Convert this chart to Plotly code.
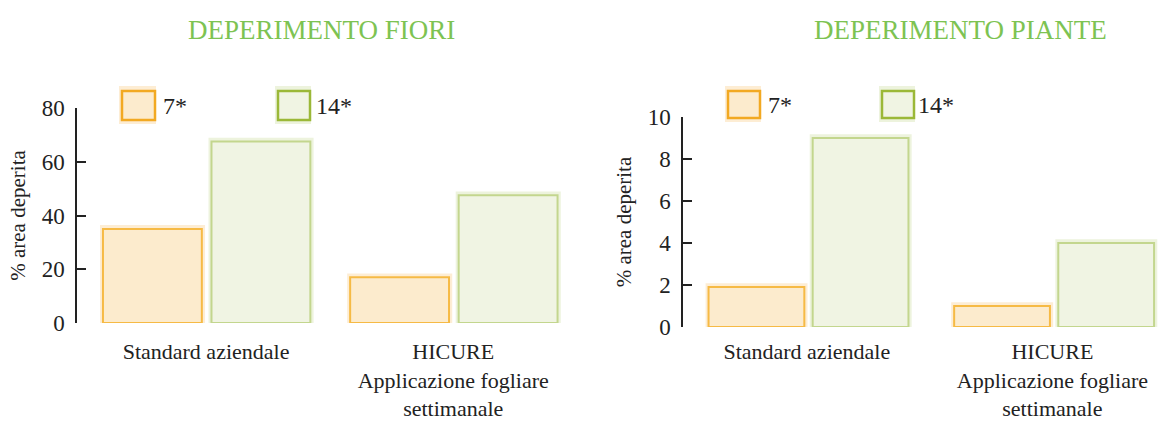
import plotly.graph_objects as go

W, H = 1159, 421

categories = ["Standard aziendale", "HICURE<br>Applicazione fogliare<br>settimanale"]
series_names = ["7*", "14*"]
fiori_7 = [35, 17]
fiori_14 = [67.5, 47.5]
piante_7 = [1.9, 1.0]
piante_14 = [9.0, 4.0]
fiori_ticks = [0, 20, 40, 60, 80]
piante_ticks = [0, 2, 4, 6, 8, 10]
titles = ["DEPERIMENTO FIORI", "DEPERIMENTO PIANTE"]
y_title = "% area deperita"

FONT = "Liberation Serif"
ORANGE_FILL = "#FCEBCD"
ORANGE_LINE = "#F6BA45"
ORANGE_LEG = "#F2A922"
GREEN_FILL = "#F0F4E3"
GREEN_LINE = "#C3D68E"
GREEN_LEG = "#9BB838"
TITLE_COL = "#7DC352"
SHADOW_OR = "rgba(250,215,160,0.45)"
SHADOW_GR = "rgba(215,228,180,0.45)"

def px(x):
    return x / W

def py(y):
    return 1 - y / H

fig = go.Figure()

def add_panel(xa, ya, v7, v14, ymax, width, off7, off14):
    ax = "x" if xa == 1 else f"x{xa}"
    ay = "y" if ya == 1 else f"y{ya}"
    pad = ymax * 0.018
    for vals, off, col in [(v7, off7, SHADOW_OR), (v14, off14, SHADOW_GR)]:
        fig.add_trace(go.Bar(
            x=categories, y=[v + pad for v in vals], width=width + 0.025,
            offset=off - 0.012, marker=dict(color=col, line=dict(width=0)),
            xaxis=ax, yaxis=ay, showlegend=False, hoverinfo="skip", cliponaxis=False))
    fig.add_trace(go.Bar(
        x=categories, y=v7, width=width, offset=off7, name=series_names[0],
        marker=dict(color=ORANGE_FILL, line=dict(color=ORANGE_LINE, width=2)),
        xaxis=ax, yaxis=ay, showlegend=False, cliponaxis=False))
    fig.add_trace(go.Bar(
        x=categories, y=v14, width=width, offset=off14, name=series_names[1],
        marker=dict(color=GREEN_FILL, line=dict(color=GREEN_LINE, width=2)),
        xaxis=ax, yaxis=ay, showlegend=False, cliponaxis=False))

add_panel(1, 1, fiori_7, fiori_14, 80, 0.40, -0.417, 0.022)
add_panel(2, 2, piante_7, piante_14, 10, 0.39, -0.40, 0.024)

axis_common = dict(showgrid=False, zeroline=False, automargin=False)
xcommon = dict(axis_common, showline=False, ticks="",
               tickfont=dict(family=FONT, size=22, color="#222"))
ycommon = dict(axis_common, showline=True, linecolor="#222", linewidth=1.5,
               ticks="inside", ticklen=9, tickwidth=1.5, tickcolor="#222",
               tickfont=dict(family=FONT, size=23, color="#222"), ticklabelstandoff=6,
               title=dict(text=y_title, font=dict(family=FONT, size=21, color="#222"),
                          standoff=10))

fig.update_layout(
    width=W, height=H,
    margin=dict(l=0, r=0, t=0, b=0, autoexpand=False),
    paper_bgcolor="white", plot_bgcolor="rgba(0,0,0,0)",
    barmode="overlay",
    xaxis=dict(xcommon, domain=[px(77), px(562)], range=[-0.522, 1.44], anchor="y",
               ticklabelstandoff=13),
    yaxis=dict(ycommon, domain=[py(323), py(108)], range=[0, 80], tickvals=fiori_ticks,
               anchor="x"),
    xaxis2=dict(xcommon, domain=[px(683), px(1158)], range=[-0.504, 1.43], anchor="y2",
                ticklabelstandoff=9),
    yaxis2=dict(ycommon, domain=[py(327), py(117)], range=[0, 10], tickvals=piante_ticks,
                anchor="x2"),
    showlegend=False,
)

for t, cx in zip(titles, [321, 960]):
    fig.add_annotation(text=t, x=px(cx), y=py(30), xref="paper", yref="paper",
                       showarrow=False, xanchor="center", yanchor="middle",
                       font=dict(family=FONT, size=27, color=TITLE_COL))

legend_items = [
    (122, 155, 91, 120, ORANGE_FILL, ORANGE_LEG, SHADOW_OR, series_names[0], 161),
    (278, 310, 91, 120, GREEN_FILL, GREEN_LEG, SHADOW_GR, series_names[1], 314),
    (728, 760, 91, 118, ORANGE_FILL, ORANGE_LEG, SHADOW_OR, series_names[0], 766),
    (882, 914, 91, 118, GREEN_FILL, GREEN_LEG, SHADOW_GR, series_names[1], 916),
]
for x0, x1, y0, y1, fill, line, sh, label, tx in legend_items:
    fig.add_shape(type="rect", xref="paper", yref="paper",
                  x0=px(x0 - 3), x1=px(x1 + 1), y0=py(y1 + 4), y1=py(y0 - 5),
                  fillcolor=sh, line=dict(width=0), layer="below")
    fig.add_shape(type="rect", xref="paper", yref="paper",
                  x0=px(x0), x1=px(x1), y0=py(y1), y1=py(y0),
                  fillcolor=fill, line=dict(color=line, width=2.5))
    fig.add_annotation(text=label, x=px(tx), y=py((y0 + y1) / 2), xref="paper", yref="paper",
                       showarrow=False, xanchor="left", yanchor="middle",
                       font=dict(family=FONT, size=24, color="#222"))

fig.write_html(
    "out.html",
    config={"displayModeBar": False},
    post_script="document.body.style.margin='0';document.body.style.overflow='hidden';",
)
